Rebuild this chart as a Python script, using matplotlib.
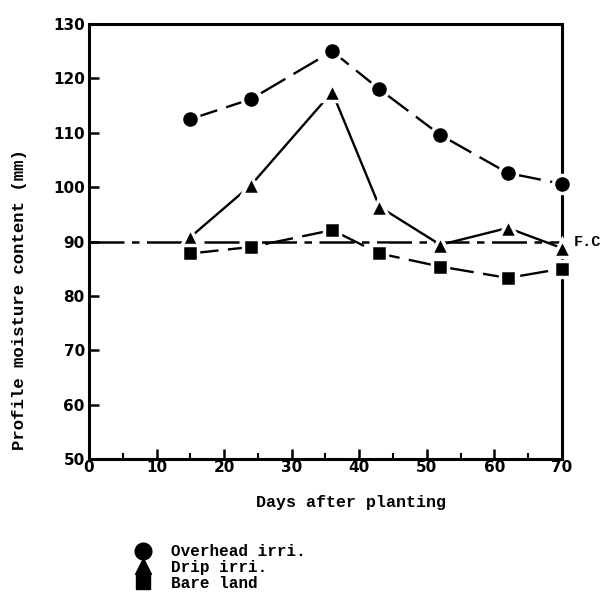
import matplotlib.pyplot as plt
from matplotlib.ticker import MultipleLocator

# days after planting and profile moisture content (mm)
days = [15, 24, 36, 43, 52, 62, 70]
overhead = [112.5, 116.2, 125.0, 118.0, 109.6, 102.6, 100.6]
drip = [90.8, 100.4, 117.5, 96.4, 89.4, 92.5, 88.8]
bare = [87.8, 89.0, 92.1, 87.8, 85.4, 83.3, 85.0]
field_capacity = 90.0

series_labels = ['Overhead irri.', 'Drip irri.', 'Bare land']

mono = ['Liberation Mono', 'DejaVu Sans Mono']
num_font = ['DejaVu Sans']

fig = plt.figure(figsize=(6.07, 6.08), dpi=100)
ax = fig.add_axes([0.1466, 0.245, 0.779, 0.7155])

# field capacity reference line
ax.axhline(field_capacity, color='black', lw=1.8, dashes=(14, 3, 3, 3), zorder=1)
ax.text(1.025, (field_capacity - 50) / 80, 'F.C', transform=ax.transAxes,
        ha='left', va='center', fontsize=11, fontweight='bold', family=mono)

mk = dict(color='black', markeredgecolor='white', markeredgewidth=2.5, lw=1.7,
          clip_on=False, zorder=3)
ax.plot(days, overhead, marker='o', markersize=13, dashes=(12, 4), label=series_labels[0], **mk)
ax.plot(days, drip, marker='^', markersize=13, label=series_labels[1], **mk)
ax.plot(days, bare, marker='s', markersize=11, dashes=(12, 4), label=series_labels[2], **mk)

ax.set_xlim(0, 70)
ax.set_ylim(50, 130)
ax.xaxis.set_major_locator(MultipleLocator(10))
ax.xaxis.set_minor_locator(MultipleLocator(5))
ax.yaxis.set_major_locator(MultipleLocator(10))
ax.tick_params(axis='both', which='major', direction='in', length=7, width=1.8,
               labelsize=11)
ax.tick_params(axis='x', which='major', pad=1)
ax.tick_params(axis='y', which='major', pad=3)
ax.tick_params(axis='x', which='minor', direction='in', length=4, width=1.5)
ax.tick_params(top=False, right=False)
for lab in ax.get_xticklabels() + ax.get_yticklabels():
    lab.set_family(num_font)
    lab.set_fontweight('bold')
for sp in ax.spines.values():
    sp.set_linewidth(2.2)

ax.set_xlabel('Days after planting', fontsize=12, fontweight='bold', family=mono)
ax.xaxis.set_label_coords(0.554, -0.082)
ax.set_ylabel('Profile moisture content (mm)', fontsize=12.5, fontweight='bold', family=mono)
ax.yaxis.set_label_coords(-0.132, 0.366)

h, l = ax.get_legend_handles_labels()
leg_handles = []
for hh in h:
    leg_handles.append(plt.Line2D([], [], ls='none', marker=hh.get_marker(), color='black',
                                  markersize=hh.get_markersize() - 1))
fig.legend(leg_handles, l, loc='upper left', bbox_to_anchor=(0.21, 0.118),
           frameon=False, handlelength=1.0, handletextpad=1.2, labelspacing=0.05,
           borderpad=0, prop={'family': mono, 'weight': 'bold', 'size': 11.5})

fig.savefig('out.png', dpi=100)
